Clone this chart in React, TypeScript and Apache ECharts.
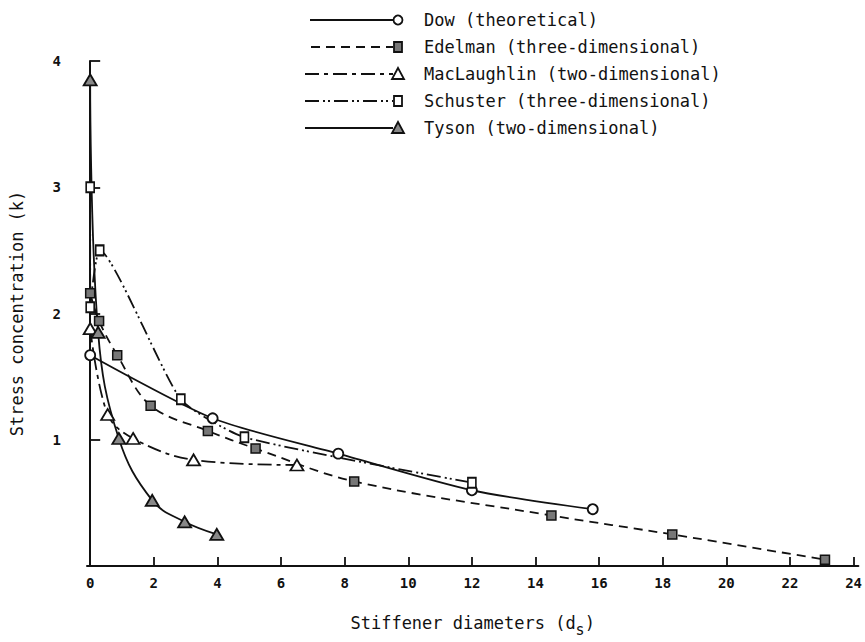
import React, { useEffect, useRef } from "react";
import * as echarts from "echarts";

// ---- data ----
const dowX = [0, 3.85, 7.8, 12, 15.8];
const dowY = [1.67, 1.17, 0.89, 0.6, 0.45];

const edelmanX = [0, 0.28, 0.85, 1.9, 3.7, 5.2, 8.3, 14.5, 18.3, 23.1];
const edelmanY = [2.16, 1.94, 1.67, 1.27, 1.07, 0.93, 0.67, 0.4, 0.25, 0.05];

const maclaughlinX = [0, 0.55, 1.35, 3.25, 6.5];
const maclaughlinY = [1.88, 1.2, 1.01, 0.84, 0.8];

const schusterX = [0, 0, 0.3, 2.85, 4.85, 12];
const schusterY = [3.0, 2.05, 2.5, 1.32, 1.02, 0.66];

const tysonX = [0, 0.25, 0.9, 1.95, 2.97, 3.98];
const tysonY = [3.85, 1.85, 1.01, 0.52, 0.35, 0.25];

const seriesNames = [
  "Dow (theoretical)",
  "Edelman (three-dimensional)",
  "MacLaughlin (two-dimensional)",
  "Schuster (three-dimensional)",
  "Tyson (two-dimensional)",
];

const xLabelValues = [0, 2, 4, 6, 8, 10, 12, 14, 16, 18, 20, 22, 24];
const xTickValues = [2, 4, 6, 8, 10, 12, 14, 16, 18, 20, 22, 24];

const FONT = "'DejaVu Sans Mono', monospace";
const INK = "#111";

const zip = (xs: number[], ys: number[]) => xs.map((x, i) => [x, ys[i]]);

const dashEdelman = [9, 6];
const dashMac = [14, 5, 4, 5];
const dashSchuster = [14, 4, 2, 3, 2, 4];

export default function App() {
  const ref = useRef<HTMLDivElement>(null);

  useEffect(() => {
    if (!ref.current) return;
    const chart = echarts.init(ref.current, null, { renderer: "svg" });

    const legendRows = [
      { y: 20, dash: null as number[] | null, sym: "circle", fill: "#fff", x1: 310 },
      { y: 47, dash: dashEdelman, sym: "rect", fill: "#777", x1: 311 },
      { y: 74, dash: dashMac, sym: "triangle", fill: "#fff", x1: 305 },
      { y: 101, dash: dashSchuster, sym: "orect", fill: "#fff", x1: 305 },
      { y: 128, dash: null as number[] | null, sym: "triangle", fill: "#888", x1: 305 },
    ];
    const symX = 398;
    const legendGraphics: any[] = [];
    legendRows.forEach((r, i) => {
      legendGraphics.push({
        type: "line",
        shape: { x1: r.x1, y1: r.y, x2: symX - 5, y2: r.y },
        style: { stroke: INK, lineWidth: 1.8, lineDash: r.dash || undefined },
      });
      if (r.sym === "circle") {
        legendGraphics.push({
          type: "circle",
          shape: { cx: symX, cy: r.y, r: 4.5 },
          style: { fill: "#fff", stroke: INK, lineWidth: 1.8 },
        });
      } else if (r.sym === "rect" || r.sym === "orect") {
        legendGraphics.push({
          type: "rect",
          shape: { x: symX - 4, y: r.y - 5, width: 8, height: 10 },
          style: { fill: r.fill, stroke: INK, lineWidth: 1.8 },
        });
      } else {
        legendGraphics.push({
          type: "polygon",
          shape: {
            points: [
              [symX, r.y - 6],
              [symX + 6, r.y + 5],
              [symX - 6, r.y + 5],
            ],
          },
          style: { fill: r.fill, stroke: INK, lineWidth: 1.8 },
        });
      }
      legendGraphics.push({
        type: "text",
        x: 424,
        y: r.y,
        style: {
          text: seriesNames[i],
          fill: INK,
          font: `17px ${FONT}`,
          verticalAlign: "middle",
        },
      });
    });

    const base = {
      type: "line" as const,
      lineStyle: { color: INK, width: 1.8 },
      itemStyle: { color: "#fff", borderColor: INK, borderWidth: 1.8 },
      symbolSize: 10,
      smooth: 0.35,
      clip: false,
      z: 3,
    };

    chart.setOption({
      animation: false,
      backgroundColor: "#fff",
      textStyle: { fontFamily: FONT },
      grid: { left: 83, right: 0, top: 61, bottom: 56, containLabel: false },
      xAxis: {
        type: "value",
        min: -0.1,
        max: 24.15,
        name: "Stiffener diameters (d{sub|s})",
        nameLocation: "middle",
        nameGap: 42,
        nameTextStyle: {
          fontFamily: FONT,
          fontSize: 17,
          color: INK,
          rich: { sub: { fontFamily: FONT, fontSize: 15, color: INK, verticalAlign: "bottom", padding: [14, 0, 0, 0] } },
        },
        axisLine: { show: true, lineStyle: { color: INK, width: 2 } },
        axisTick: { show: true, inside: true, length: 9, customValues: xTickValues, lineStyle: { color: INK, width: 1.8 } },
        axisLabel: { customValues: xLabelValues, color: INK, fontFamily: FONT, fontSize: 14, fontWeight: "bold", margin: 10 },
        splitLine: { show: false },
      },
      yAxis: {
        type: "value",
        min: 0,
        max: 4,
        interval: 1,
        name: "Stress concentration (k)",
        nameLocation: "middle",
        nameGap: 62,
        nameRotate: 90,
        nameTextStyle: { fontFamily: FONT, fontSize: 17, color: INK },
        axisLine: { show: true, lineStyle: { color: INK, width: 2 } },
        axisTick: { show: true, inside: true, length: 10, lineStyle: { color: INK, width: 1.8 } },
        axisLabel: {
          color: INK,
          fontFamily: FONT,
          fontSize: 14,
          fontWeight: "bold",
          margin: 26,
          formatter: (v: number) => (v === 0 ? "" : String(v)),
        },
        splitLine: { show: false },
      },
      series: [
        {
          ...base,
          name: seriesNames[0],
          data: zip(dowX, dowY),
          symbol: "circle",
          smooth: 0.25,
        },
        {
          ...base,
          name: seriesNames[1],
          data: zip(edelmanX, edelmanY),
          symbol: "rect",
          symbolSize: [9, 9],
          itemStyle: { color: "#777", borderColor: INK, borderWidth: 1.5 },
          lineStyle: { color: INK, width: 1.8, type: dashEdelman },
        },
        {
          ...base,
          name: seriesNames[2],
          data: zip(maclaughlinX, maclaughlinY),
          symbol: "triangle",
          symbolSize: [13, 11],
          lineStyle: { color: INK, width: 1.8, type: dashMac },
        },
        {
          ...base,
          name: seriesNames[3],
          data: zip(schusterX, schusterY),
          symbol: "rect",
          symbolSize: [8, 10],
          smooth: 0.18,
          lineStyle: { color: INK, width: 1.8, type: dashSchuster },
        },
        {
          ...base,
          name: seriesNames[4],
          data: zip(tysonX, tysonY),
          symbol: "triangle",
          symbolSize: [13, 11],
          itemStyle: { color: "#888", borderColor: INK, borderWidth: 1.8 },
          smooth: 0.4,
        },
      ],
      graphic: legendGraphics,
    });

    return () => chart.dispose();
  }, []);

  return (
    <div
      ref={ref}
      style={{ position: "fixed", left: 0, top: 0, width: 865, height: 642, background: "#fff" }}
    />
  );
}
